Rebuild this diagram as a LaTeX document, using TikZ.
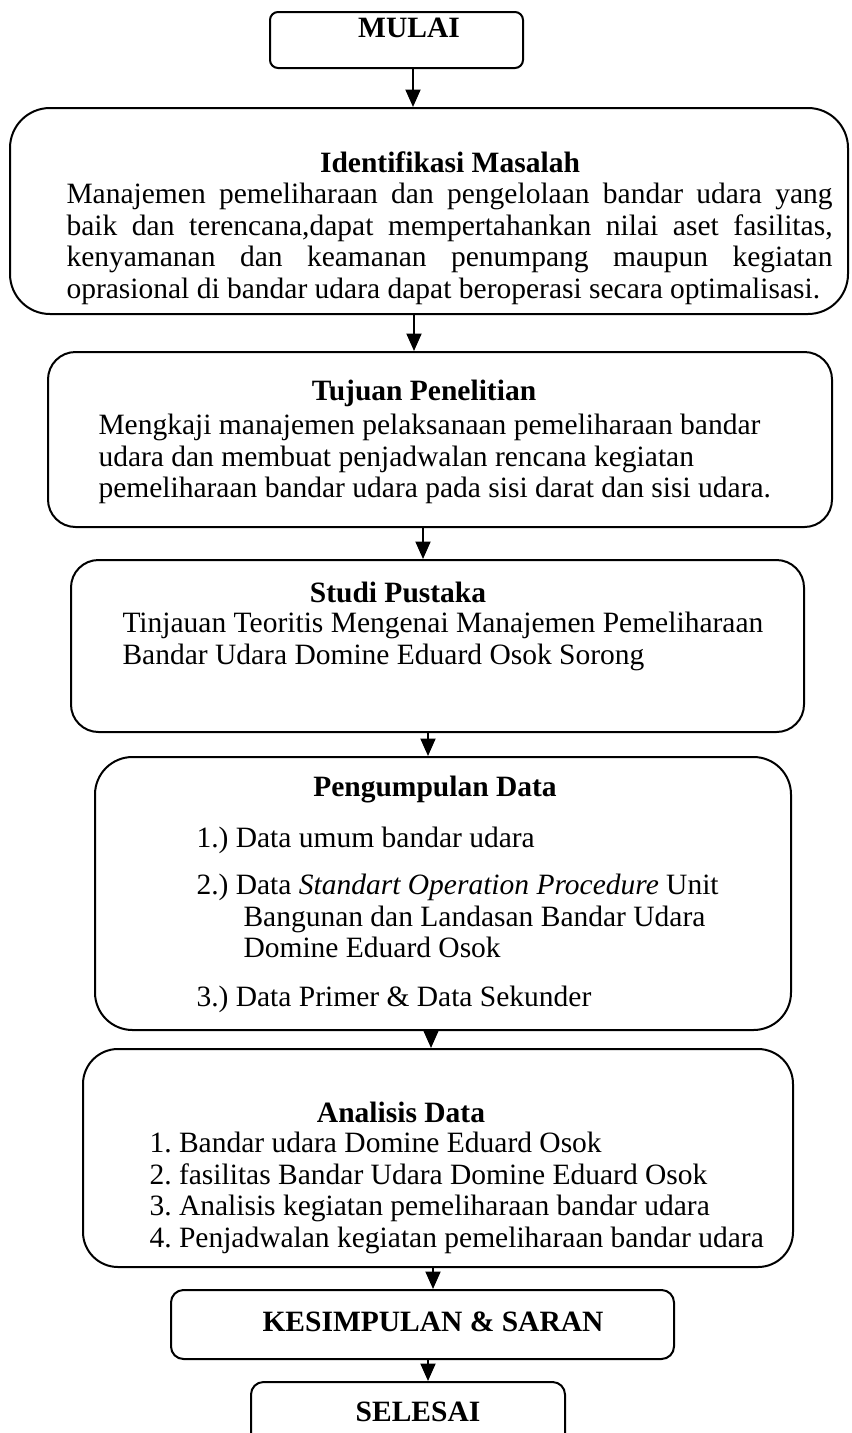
\documentclass[tikz,border=0pt]{standalone}
\usepackage{fontspec}
\setmainfont{Liberation Serif}
\usepackage{tikz}
\usetikzlibrary{arrows.meta,positioning,fit}
\definecolor{flowBlack}{RGB}{0,0,0}
\frenchspacing

\begin{document}
\begin{tikzpicture}[x=0.4pt,y=-0.4pt,
  every node/.style={font=\fontsize{11.8}{12.6}\selectfont, inner sep=0pt},
  box/.style={draw=flowBlack, line width=0.8pt, inner sep=0pt},
  head/.style={font=\fontsize{11.8}{12.6}\selectfont\bfseries},
  txt/.style={align=left, anchor=north west},
  arr/.style={flowBlack, line width=0.8pt, -{Triangle[length=7pt,width=6pt]}}]
\useasboundingbox (0,0) rectangle (852,1433);

\node[box, rounded corners=3.2pt, fit={(270,12) (523,68)}] (mulai) {};
\node[head] (mulaiT) at (409,28) {MULAI};

\node[box, rounded corners=16pt, fit={(10,108) (848,314)}] (ident) {};
\node[head] (identT) at (450,162) {Identifikasi Masalah};
\node[anchor=north west, text width=306.4pt, align=justify] (identB) at (66,183)
  {Manajemen pemeliharaan dan pengelolaan bandar udara yang\linebreak
   baik dan terencana,dapat mempertahankan nilai aset fasilitas,\linebreak
   kenyamanan dan keamanan penumpang maupun kegiatan\linebreak
   oprasional di bandar udara dapat beroperasi secara optimalisasi.};

\node[box, rounded corners=11pt, fit={(48,352) (832,527)}] (tujuan) {};
\node[head] (tujuanT) at (424,393) {Tujuan Penelitian};
\node[txt] (tujuanB) at (98,414)
  {Mengkaji manajemen pelaksanaan pemeliharaan bandar\\
   udara dan membuat penjadwalan rencana kegiatan\\
   pemeliharaan bandar udara pada sisi darat dan sisi udara.};

\node[box, rounded corners=11pt, fit={(71,560) (804,732)}] (studi) {};
\node[head] (studiT) at (398,592) {Studi Pustaka};
\node[txt] (studiB) at (122,612)
  {Tinjauan Teoritis Mengenai Manajemen Pemeliharaan\\
   Bandar Udara Domine Eduard Osok Sorong};

\node[box, rounded corners=15pt, fit={(95,757) (791,1030)}] (kumpul) {};
\node[head] (kumpulT) at (435,790) {Pengumpulan Data};
\node[txt] (kumpul1) at (196,827) {1.) Data umum bandar udara};
\node[txt] (kumpul2) at (196,874)
  {2.) Data \textit{Standart Operation Procedure} Unit\\
   \hspace*{18.8pt}Bangunan dan Landasan Bandar Udara\\
   \hspace*{18.8pt}Domine Eduard Osok};
\node[txt] (kumpul3) at (196,986) {3.) Data Primer \& Data Sekunder};

\node[box, rounded corners=14pt, fit={(83,1049) (793,1267)}] (analisis) {};
\node[head] (analisisT) at (401,1112) {Analisis Data};
\node[txt] (analisisB) at (149,1132)
  {1. Bandar udara Domine Eduard Osok\\
   2. fasilitas Bandar Udara Domine Eduard Osok\\
   3. Analisis kegiatan pemeliharaan bandar udara\\
   4. Penjadwalan kegiatan pemeliharaan bandar udara};

\node[box, rounded corners=5pt, fit={(171,1290) (674,1359)}] (simpul) {};
\node[head] (simpulT) at (433,1322) {KESIMPULAN \& SARAN};

\node[box, rounded corners=5pt, fit={(251,1382) (565,1470)}] (selesai) {};
\node[head] (selesaiT) at (418,1412) {SELESAI};

\draw[arr] (413,0 |- mulai.south) -- (413,0 |- ident.north);
\draw[arr] (414,0 |- ident.south) -- (414,0 |- tujuan.north);
\draw[arr] (423,0 |- tujuan.south) -- (423,0 |- studi.north);
\draw[arr] (428,0 |- studi.south) -- (428,0 |- kumpul.north);
\draw[arr] (431,0 |- kumpul.south) -- (431,0 |- analisis.north);
\draw[arr] (433,0 |- analisis.south) -- (433,0 |- simpul.north);
\draw[arr] (428,0 |- simpul.south) -- (428,0 |- selesai.north);
\end{tikzpicture}
\end{document}
